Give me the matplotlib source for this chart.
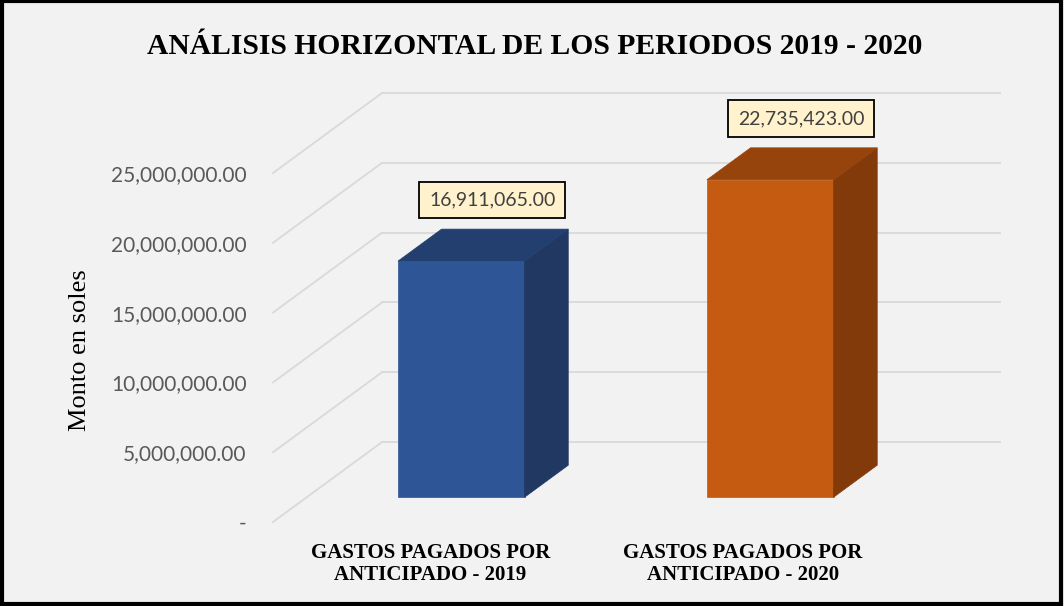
import matplotlib
matplotlib.use("Agg")
import matplotlib.pyplot as plt
from matplotlib.patches import Polygon, Rectangle

# data
categories = ["GASTOS PAGADOS POR\nANTICIPADO - 2019", "GASTOS PAGADOS POR\nANTICIPADO - 2020"]
values = [16911065.00, 22735423.00]
value_labels = ["16,911,065.00", "22,735,423.00"]
y_ticks = [0, 5000000, 10000000, 15000000, 20000000, 25000000]
y_tick_labels = ["-", "5,000,000.00", "10,000,000.00", "15,000,000.00",
                 "20,000,000.00", "25,000,000.00"]

front_colors = ["#2E5596", "#C55A11"]
top_colors = ["#233F70", "#97430C"]
side_colors = ["#203862", "#823A0B"]

bg = "#F2F2F2"
grid_c = "#D9D9D9"

# pseudo 3d geometry (depth vector of the whole plot box, in data units)
depth_x = 0.353
depth_y = 5730000
f_front, f_back = 0.31, 0.71
bar_w = 0.41

fig = plt.figure(figsize=(10.64, 6.06), dpi=100)
fig.patch.set_facecolor(bg)
ax = fig.add_axes([273 / 1064, 1 - 522 / 606, 727 / 1064, 429 / 606])
ax.set_facecolor(bg)
ax.set_xlim(-0.5, 1.5 + depth_x)
ax.set_ylim(0, 25000000 + depth_y)
for s in ax.spines.values():
    s.set_visible(False)

# gridlines: side wall + back wall
for v in y_ticks:
    ax.plot([-0.5, -0.5 + depth_x], [v, v + depth_y], color=grid_c, lw=1.3,
            clip_on=False, zorder=1)
    ax.plot([-0.5 + depth_x, 1.5 + depth_x], [v + depth_y, v + depth_y],
            color=grid_c, lw=1.3, clip_on=False, zorder=1)

# bars
for i, v in enumerate(values):
    x0 = i - bar_w / 2 + f_front * depth_x
    y0 = f_front * depth_y
    ddx = (f_back - f_front) * depth_x
    ddy = (f_back - f_front) * depth_y
    ax.add_patch(Rectangle((x0, y0), bar_w, v, facecolor=front_colors[i],
                           edgecolor=front_colors[i], lw=0.5, zorder=3))
    ax.add_patch(Polygon([(x0 + bar_w, y0), (x0 + bar_w + ddx, y0 + ddy),
                          (x0 + bar_w + ddx, y0 + ddy + v), (x0 + bar_w, y0 + v)],
                         closed=True, facecolor=side_colors[i],
                         edgecolor=side_colors[i], lw=0.5, zorder=3))
    ax.add_patch(Polygon([(x0, y0 + v), (x0 + bar_w, y0 + v),
                          (x0 + bar_w + ddx, y0 + ddy + v), (x0 + ddx, y0 + ddy + v)],
                         closed=True, facecolor=top_colors[i],
                         edgecolor=top_colors[i], lw=0.5, zorder=3))
    # data label
    ax.annotate(value_labels[i], xy=(i + 0.5 * (f_front + f_back) * depth_x + 0.03,
                                     v + f_back * depth_y),
                xytext=(0, 21), textcoords="offset points", ha="center", va="center",
                fontsize=14, color="#404040", family="Lato",
                bbox=dict(boxstyle="square,pad=0.5", facecolor="#FFF2CC",
                          edgecolor="black", lw=1.3), zorder=5)

ax.set_yticks(y_ticks)
ax.set_yticklabels(y_tick_labels, family="Lato", fontsize=15, color="#595959")
ax.tick_params(axis="y", length=0, pad=19)
ax.set_xticks([0.01, 1.02])
ax.set_xticklabels(categories, family="Liberation Serif", fontweight="bold",
                   fontsize=15, color="black", linespacing=1.15)
ax.tick_params(axis="x", length=0, pad=15)

fig.text(80 / 1064, 1 - 350 / 606, "Monto en soles", rotation=90, ha="center",
         va="center", family="Liberation Serif", fontsize=19)
fig.text(535 / 1064, 1 - 47 / 606, "ANÁLISIS HORIZONTAL DE LOS PERIODOS 2019 - 2020",
         ha="center", va="center", family="Liberation Serif", fontweight="bold",
         fontsize=21.3)

# outer frame
fig.patches.append(Rectangle((0.002, 0.004), 0.995, 0.994, transform=fig.transFigure,
                             fill=False, edgecolor="black", lw=3))

fig.savefig("out.png", dpi=100, facecolor=bg)
